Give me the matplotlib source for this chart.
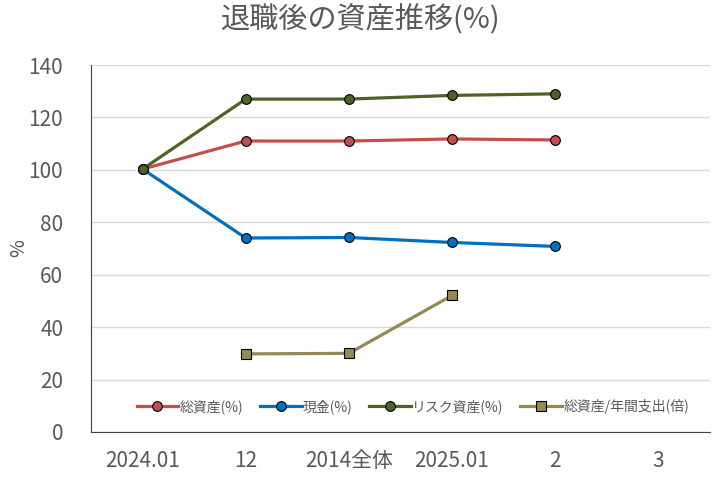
import numpy as np
import matplotlib
matplotlib.use("Agg")
import matplotlib.pyplot as plt

plt.rcParams['font.family'] = ['Noto Sans CJK JP', 'DejaVu Sans']

# === Data ===
categories = ["2024.01", "12", "2014全体", "2025.01", "2", "3"]
total_assets = [100.3, 111.0, 111.0, 111.8, 111.4]
cash = [100.3, 74.0, 74.2, 72.3, 70.8]
risk_assets = [100.3, 127.0, 127.0, 128.4, 129.0]
ratio_x = [1, 2, 3]
ratio = [29.8, 30.0, 52.1]

labels = ["総資産(%)", "現金(%)", "リスク資産(%)", "総資産/年間支出(倍)"]

fig = plt.figure(figsize=(7.12, 4.83), dpi=100)
ax = fig.add_axes([91 / 712, 1 - 432 / 483, (710 - 91) / 712, (432 - 65) / 483])

x = np.arange(len(total_assets))
lw = 2.3
ax.plot(x, total_assets, '-o', color='#C0504D', lw=lw, ms=7, mec='black', mew=0.8, label=labels[0], zorder=3)
ax.plot(x, cash, '-o', color='#0070C0', lw=lw, ms=7, mec='black', mew=0.8, label=labels[1], zorder=3)
ax.plot(x, risk_assets, '-o', color='#4F6228', lw=lw, ms=7, mec='black', mew=0.8, label=labels[2], zorder=4)
ax.plot(ratio_x, ratio, '-s', color='#948A54', lw=lw, ms=7.5, mec='black', mew=0.8, label=labels[3], zorder=3)

ax.set_xlim(-0.5, len(categories) - 0.5)
ax.set_ylim(0, 140)
ax.set_yticks(np.arange(0, 141, 20))
ax.set_xticks(np.arange(len(categories)))
ax.set_xticklabels(categories)
ax.tick_params(axis='both', length=0, labelsize=15, colors='#595959')
ax.tick_params(axis='x', pad=13)
ax.tick_params(axis='y', pad=20)
ax.grid(axis='y', color='#D9D9D9', lw=1)
ax.set_axisbelow(True)
for s in ['top', 'right']:
    ax.spines[s].set_visible(False)
ax.spines['left'].set_color('#404040')
ax.spines['bottom'].set_color('#404040')

ax.set_ylabel('%', fontsize=14, color='#595959')
ax.yaxis.set_label_coords(-0.1, 0.5)
fig.suptitle('退職後の資産推移(%)', fontsize=21, color='#595959', x=0.507, y=0.99)

ax.legend(loc='lower center', bbox_to_anchor=(0.52, 0.015), ncol=4, frameon=False,
          fontsize=10, handlelength=3, columnspacing=1.2, handletextpad=0.1,
          labelcolor='#595959')

fig.savefig('out.png', dpi=100)
